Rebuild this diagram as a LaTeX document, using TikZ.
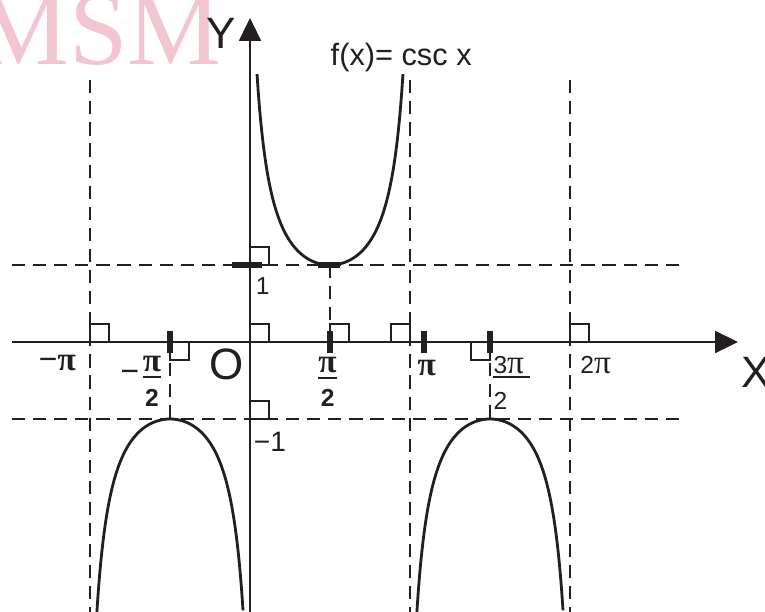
\documentclass[tikz,border=0pt]{standalone}
\usepackage{fontspec}
\setmainfont{Liberation Sans}
\newfontfamily\pifont{Liberation Serif}
\usepackage{tikz}
\usetikzlibrary{arrows.meta}
\definecolor{ink}{HTML}{231F20}
\definecolor{wmark}{HTML}{F2C6D0}
\tikzset{
  >={Triangle[length=0.46cm, width=0.44cm]},
  axisline/.style={draw=ink, line width=1.3pt},
  guide/.style={draw=ink, line width=1.3pt, dash pattern=on 7.5pt off 4.5pt},
  curve/.style={draw=ink, line width=1.6pt, smooth, samples=120},
  rmark/.style={draw=ink, line width=1.3pt},
  tickbar/.style={draw=ink, line width=3.6pt},
  fracbar/.style={draw=ink, line width=1.2pt},
  big/.style={font=\fontsize{25}{25}\selectfont, inner sep=0pt, text=ink},
  num/.style={font=\fontsize{14}{14}\selectfont, inner sep=0pt, text=ink},
  bnum/.style={font=\bfseries\fontsize{14}{14}\selectfont, inner sep=0pt, text=ink},
  bpisym/.style={font=\pifont\bfseries\fontsize{19}{19}\selectfont, inner sep=0pt, text=ink},
}
\newcommand{\piglyph}{{\pifont\fontsize{19}{19}\selectfont π}}

\begin{document}
\begin{tikzpicture}[x=1.6cm, y=1.54cm]
  \useasboundingbox (-3.125,-3.5065) rectangle (6.4375,4.4416);
  % watermark
  \node[font=\pifont\fontsize{60}{60}\selectfont, text=wmark, anchor=base east, inner sep=0pt] (wm) at (-0.35,3.61) {MSM};
  % asymptotes and level lines
  \foreach \a in {-2,2,4}
    \draw[guide] (\a,3.40) -- (\a,-3.5065);
  \draw[guide] (-2.975,1) -- (5.375,1);
  \draw[guide] (-2.975,-1) -- (5.375,-1);
  \draw[guide] (1,1) -- (1,0);
  \draw[guide] (-1,0) -- (-1,-1);
  \draw[guide] (3,0) -- (3,-1);
  % axes
  \coordinate (xl) at (-2.975,0);
  \coordinate (xr) at (6.1,0);
  \coordinate (yb) at (0,-3.5065);
  \coordinate (yt) at (0,4.208);
  \draw[axisline,->] (xl) -- (xr);
  \draw[axisline,->] (yb) -- (yt);
  % branches of csc
  \draw[curve] plot[domain=0.1856:1.8144] ({1+1.12*(\x-1)},{1/sin(\x*90)});
  \draw[curve] plot[domain=-1.8159:-0.1841] ({-1+1.12*(\x+1)},{1/sin(\x*90)});
  \draw[curve] plot[domain=2.1841:3.8159] ({3+1.12*(\x-3)},{1/sin(\x*90)});
  % right angle marks
  \foreach \px/\py/\dx/\dy in {-2/0/1/1, -1/0/1/-1, 0/0/1/1, 0/1/1/1, 0/-1/1/1, 1/0/1/1, 2/0/-1/1, 3/0/-1/-1, 4/0/1/1}
    \draw[rmark] (\px,\py) rectangle ++(\dx*0.235,\dy*0.235);
  % ticks
  \foreach \a in {-1,1,2.175,3}
    \draw[tickbar] (\a,0.14) -- (\a,-0.14);
  \draw[tickbar] (0.85,1) -- (1.12,1);
  \draw[tickbar] (-0.225,1) -- (0.15,1);
  % labels
  \node[big] (lx) at (6.33,-0.39) {X};
  \node[big] (ly) at (-0.36,4.01) {Y};
  \node[big] (lo) at (-0.29,-0.29) {O};
  \node[font=\fontsize{17.5}{17.5}\selectfont, text=ink, inner sep=0pt] (fn) at (1.89,3.70) {f(x)= csc x};
  \node[font=\fontsize{14}{14}\selectfont, text=ink, inner sep=0pt] (one) at (0.16,0.73) {1};
  \node[font=\fontsize{16}{16}\selectfont, text=ink, inner sep=0pt] (mone) at (0.25,-1.30) {−1};
  \node[bpisym] (lmpi) at (-2.41,-0.27) {−π};
  \node[bpisym] (lmh) at (-1.50,-0.44) {−};
  \node[bpisym] (lmhn) at (-1.225,-0.28) {π};
  \node[bnum] (lmhd) at (-1.225,-0.73) {2};
  \draw[fracbar] (-1.34,-0.46) -- (-1.11,-0.46);
  \node[bpisym] (lhn) at (0.97,-0.30) {π};
  \node[bnum] (lhd) at (0.97,-0.73) {2};
  \draw[fracbar] (0.85,-0.47) -- (1.09,-0.47);
  \node[bpisym] (lpi) at (2.21,-0.34) {π};
  \node[num, anchor=west] (lthn) at (3.04,-0.30) {3\piglyph};
  \node[num, anchor=west] (lthd) at (3.04,-0.76) {2};
  \draw[fracbar] (3.04,-0.45) -- (3.5,-0.45);
  \node[num] (ltwo) at (4.32,-0.30) {2\piglyph};
\end{tikzpicture}
\end{document}
